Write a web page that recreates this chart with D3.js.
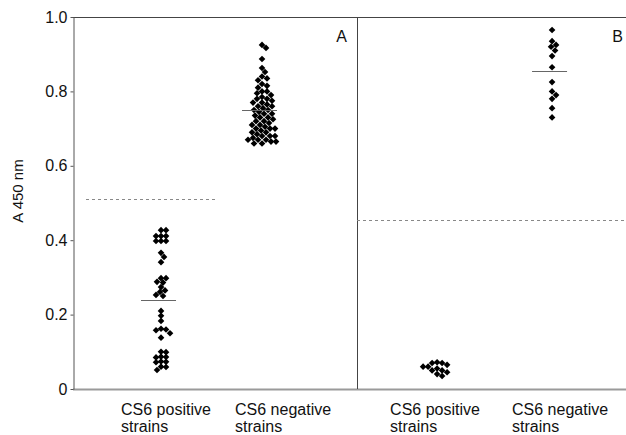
<!DOCTYPE html>
<html lang="en">
<head>
  <meta charset="UTF-8">
  <title>A 450 nm scatter</title>
  <script src="https://d3js.org/d3.v7.min.js"></script>
  <style>
    body { margin: 0; background: #fff; }
    svg { display: block; font-family: "Liberation Sans", Arial, sans-serif; }
    .axis text { font-size: 16px; fill: #111; }
    .axis path, .axis line { stroke: #555; }
  </style>
</head>
<body>
  <script>
    // values
    var panels = ["A", "B"];
    var groups = ["positive", "negative"];
    var yTicks = [0, 0.2, 0.4, 0.6, 0.8, 1.0];
    var cutoffs = [0.511, 0.455];            // dashed cut-off per panel
    var means = [[0.24, 0.75], [null, 0.855]];

    var aPositive = [0.427, 0.427, 0.411, 0.411, 0.411, 0.398, 0.398, 0.398, 0.366, 0.355, 0.341,
      0.298, 0.298, 0.288, 0.286, 0.274, 0.265, 0.261, 0.253, 0.25,
      0.21, 0.197, 0.183, 0.162, 0.16, 0.158, 0.15, 0.138,
      0.10, 0.099, 0.087, 0.086, 0.085, 0.074, 0.073, 0.072, 0.06, 0.059, 0.051];
    var aNegative = [0.925, 0.917, 0.887, 0.863, 0.852, 0.84, 0.835, 0.83, 0.82, 0.815, 0.81,
      0.80, 0.80, 0.795, 0.79, 0.785, 0.78, 0.78, 0.775, 0.77, 0.77, 0.765, 0.76, 0.76, 0.755,
      0.75, 0.75, 0.745, 0.74, 0.74, 0.735, 0.73, 0.73, 0.725, 0.72, 0.72, 0.715, 0.71, 0.71,
      0.705, 0.70, 0.70, 0.70, 0.695, 0.69, 0.69, 0.685, 0.68, 0.68, 0.68, 0.675, 0.67, 0.67,
      0.67, 0.665, 0.665, 0.66, 0.66];
    var bPositive = [0.072, 0.07, 0.07, 0.065, 0.06, 0.06, 0.055, 0.05, 0.05, 0.045, 0.04, 0.035];
    var bNegative = [0.965, 0.935, 0.925, 0.92, 0.91, 0.895, 0.865, 0.825, 0.80, 0.79, 0.78, 0.755, 0.73];
    var series = [[aPositive, aNegative], [bPositive, bNegative]];
    var labels = [["CS6 positive", "strains"], ["CS6 negative", "strains"]];

    var W = 626, H = 435;
    var plotLeft = 73, plotTop = 17, plotBottom = 389, divider = 357;

    var svg = d3.select("body").append("svg")
        .attr("width", W)
        .attr("height", H);

    var y = d3.scaleLinear().domain([0, 1]).range([plotBottom, plotTop]);

    // one point scale per panel
    var xs = [
      d3.scalePoint().domain(groups).range([plotLeft, divider]).padding(0.906).align(0.481),
      d3.scalePoint().domain(groups).range([divider, W]).padding(0.67).align(0.52)
    ];
    var labelShift = [[-40, -27], [-47, -40]];

    // frame
    svg.append("line").attr("x1", plotLeft).attr("x2", W).attr("y1", plotTop + 0.5).attr("y2", plotTop + 0.5)
        .attr("stroke", "#444");
    svg.append("line").attr("x1", plotLeft).attr("x2", W).attr("y1", plotBottom + 0.5).attr("y2", plotBottom + 0.5)
        .attr("stroke", "#9a9a9a").attr("stroke-width", 2);
    svg.append("line").attr("x1", divider + 0.5).attr("x2", divider + 0.5).attr("y1", plotTop).attr("y2", plotBottom)
        .attr("stroke", "#444");

    svg.append("g")
        .attr("class", "axis")
        .attr("transform", "translate(" + (plotLeft + 0.5) + ",0)")
        .call(d3.axisLeft(y).tickValues(yTicks).tickSize(3).tickSizeOuter(0).tickPadding(3)
          .tickFormat(function(d) { return d === 0 ? "0" : d3.format(".1f")(d); }));

    svg.append("text")
        .attr("transform", "translate(23,191) rotate(-90)")
        .attr("text-anchor", "middle")
        .attr("font-size", 15)
        .attr("fill", "#111")
        .text("A 450 nm");

    // simple dodge so points do not overlap
    function swarm(values, cx) {
      var r = 4.8, placed = [];
      var sorted = values.slice().sort(function(a, b) { return b - a; });
      sorted.forEach(function(v) {
        var py = y(v), px = cx;
        for (var k = 0; k < 60; k++) {
          var off = (k % 2 ? 1 : -1) * Math.ceil(k / 2);
          var tx = cx + off;
          var hit = placed.some(function(p) { return Math.hypot(p[0] - tx, p[1] - py) < r; });
          if (!hit) { px = tx; break; }
        }
        placed.push([px, py]);
      });
      return placed;
    }

    var diamond = d3.symbol().type(d3.symbolSquare).size(22);

    panels.forEach(function(name, i) {
      var x = xs[i];
      var range = x.range();

      // cut-off line
      svg.append("line")
          .attr("x1", i === 0 ? range[0] + 13 : range[0])
          .attr("x2", i === 0 ? 216 : range[1])
          .attr("y1", Math.round(y(cutoffs[i])) + 0.5)
          .attr("y2", Math.round(y(cutoffs[i])) + 0.5)
          .attr("stroke", "#888")
          .attr("stroke-dasharray", "3,3");

      groups.forEach(function(g, j) {
        var cx = x(g);
        var pts = swarm(series[i][j], cx);

        svg.append("g").selectAll("path")
          .data(pts)
          .enter().append("path")
            .attr("d", diamond)
            .attr("transform", function(d) { return "translate(" + d[0] + "," + d[1] + ") rotate(45)"; })
            .attr("fill", "#000");

        if (means[i][j] != null) {
          svg.append("line")
              .attr("x1", cx - 20).attr("x2", cx + 15)
              .attr("y1", Math.round(y(means[i][j])) + 0.5)
              .attr("y2", Math.round(y(means[i][j])) + 0.5)
              .attr("stroke", "#666");
        }

        var t = svg.append("text")
            .attr("x", cx + labelShift[i][j])
            .attr("y", 415)
            .attr("font-size", 16)
            .attr("fill", "#111");
        t.append("tspan").text(labels[j][0]);
        t.append("tspan").attr("x", cx + labelShift[i][j]).attr("dy", 17).text(labels[j][1]);
      });

      svg.append("text")
          .attr("x", range[1] - (i === 0 ? 10 : 3))
          .attr("y", 42)
          .attr("text-anchor", "end")
          .attr("font-size", 16)
          .attr("fill", "#111")
          .text(name);
    });
  </script>
</body>
</html>
